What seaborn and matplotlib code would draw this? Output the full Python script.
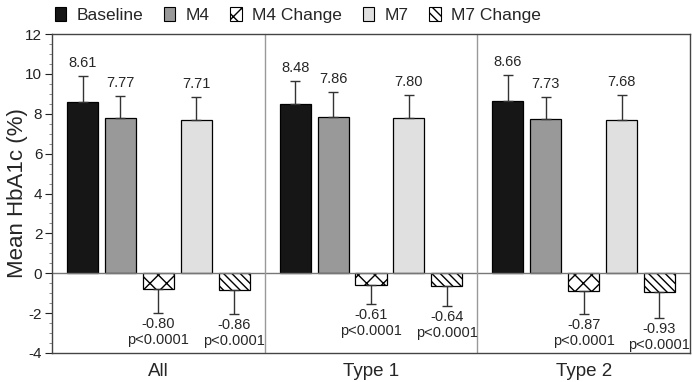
import numpy as np
import pandas as pd
import matplotlib
matplotlib.use("Agg")
import matplotlib.pyplot as plt
import seaborn as sns
from matplotlib.patches import Patch

# data
groups = ["All", "Type 1", "Type 2"]
measures = ["Baseline", "M4", "M4 Change", "M7", "M7 Change"]
means = {
    "Baseline": [8.61, 8.48, 8.66],
    "M4": [7.77, 7.86, 7.73],
    "M4 Change": [-0.80, -0.61, -0.87],
    "M7": [7.71, 7.80, 7.68],
    "M7 Change": [-0.86, -0.64, -0.93],
}
sds = {
    "Baseline": [1.26, 1.14, 1.26],
    "M4": [1.13, 1.22, 1.12],
    "M4 Change": [1.17, 0.94, 1.15],
    "M7": [1.12, 1.13, 1.24],
    "M7 Change": [1.16, 0.99, 1.32],
}
pvals = ["p<0.0001"] * 3

sns.set_style("white")
plt.rcParams["font.family"] = ["Liberation Sans", "DejaVu Sans"]
plt.rcParams["axes.unicode_minus"] = False
plt.rcParams["hatch.linewidth"] = 1.0

rows = []
for m in measures:
    for i, g in enumerate(groups):
        rows.append({"group": g, "measure": m, "mean": means[m][i], "sd": sds[m][i]})
df = pd.DataFrame(rows)

colors = {"Baseline": "#161616", "M4": "#999999", "M4 Change": "white",
          "M7": "#e0e0e0", "M7 Change": "white"}
hatches = {"Baseline": "", "M4": "", "M4 Change": "xx", "M7": "", "M7 Change": "\\\\\\\\"}

fig = plt.figure(figsize=(6.92, 3.82), dpi=100)
ax = fig.add_axes([52 / 692, 1 - 353 / 382, 638 / 692, 319 / 382])

sns.barplot(data=df, x="group", y="mean", hue="measure", order=groups,
            hue_order=measures, palette=colors, width=0.89, gap=0.18,
            errorbar=None, edgecolor="black", linewidth=0.9, ax=ax, legend=False)

for cont, m in zip(ax.containers, measures):
    for i, bar in enumerate(cont):
        bar.set_hatch(hatches[m])
        x = bar.get_x() + bar.get_width() / 2
        v = means[m][i]
        s = sds[m][i]
        if v >= 0:
            ax.errorbar(x, v, yerr=[[0], [s]], color="#333333", lw=1,
                        capsize=3.5, capthick=1)
            ax.text(x, v + s + 0.3, f"{v:.2f}", ha="center", va="bottom", fontsize=10.5)
        else:
            ax.errorbar(x, v, yerr=[[s], [0]], color="#333333", lw=1,
                        capsize=3.5, capthick=1)
            ax.text(x, v - s - 0.2, f"{v:.2f}\n{pvals[i]}", ha="center", va="top",
                    fontsize=10.5, linespacing=1.2)

ax.axhline(0, color="#777777", lw=1)
for xv in [0.5, 1.5]:
    ax.axvline(xv, color="#999999", lw=1)

ax.set_xlim(-0.5, 2.5)
ax.set_ylim(-4, 12)
ax.set_yticks(np.arange(-4, 13, 2))
ax.set_yticks(np.arange(-4, 12.1, 0.5), minor=True)
ax.tick_params(axis="y", which="major", direction="out", length=5, width=0.8,
               left=True, labelsize=11, colors="#222222", pad=2)
ax.tick_params(axis="y", which="minor", direction="out", length=2.5, width=0.6,
               left=True, colors="#777777")
ax.tick_params(axis="x", length=0, labelsize=13.5, pad=7)
ax.set_xlabel("")
ax.set_ylabel("Mean HbA1c (%)", fontsize=16, labelpad=4)
ax.yaxis.set_label_coords(-0.038, 0.5)
for sp in ax.spines.values():
    sp.set_color("#444444")
    sp.set_linewidth(1)

handles = [Patch(facecolor=colors[m], edgecolor="black", hatch=hatches[m], lw=0.8)
           for m in measures]
fig.legend(handles, measures, loc="upper left", bbox_to_anchor=(46 / 692, 1.005),
           ncol=5, frameon=False, fontsize=12.5, handlelength=0.65, handleheight=0.9,
           handletextpad=0.6, columnspacing=1.2, borderaxespad=0.1)

fig.savefig("out.png", dpi=100)
